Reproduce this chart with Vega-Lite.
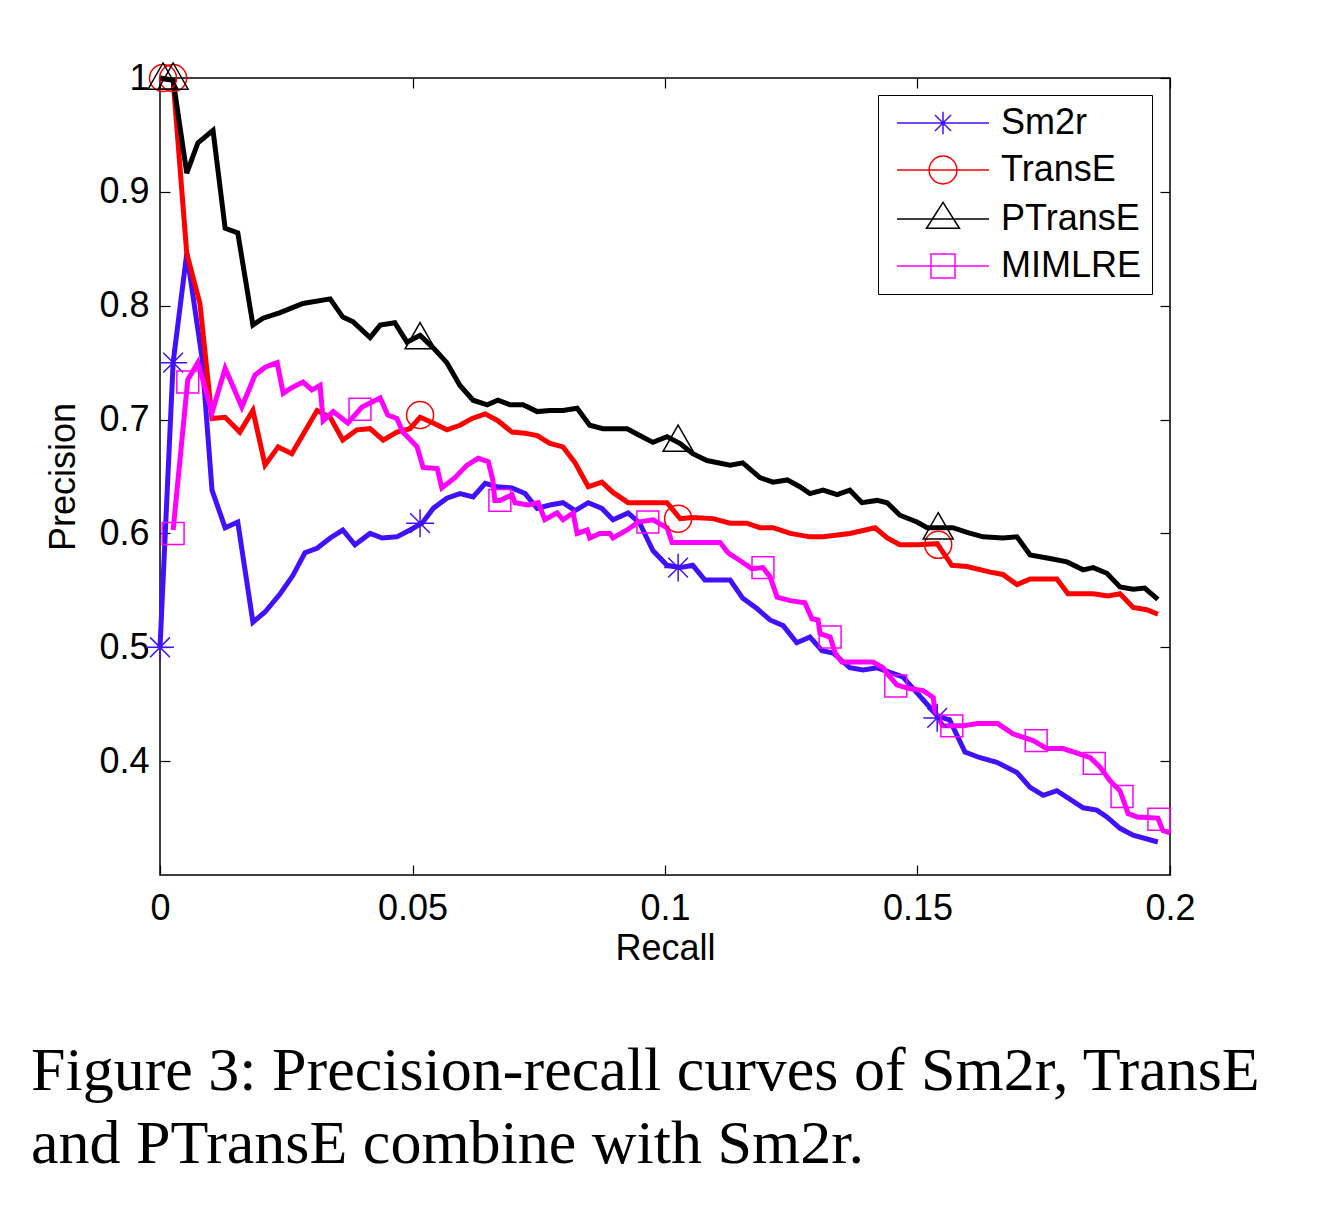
{
  "$schema": "https://vega.github.io/schema/vega-lite/v6.json",
  "autosize": {"type": "none"},
  "width": 1010,
  "height": 797,
  "padding": {"left": 160, "top": 78, "right": 148, "bottom": 337},
  "background": "white",
  "config": {
    "view": {"stroke": "black", "strokeWidth": 1.5},
    "font": "Liberation Sans",
    "axis": {
      "domain": false,
      "grid": false,
      "tickColor": "black",
      "tickWidth": 1.2,
      "tickSize": -10,
      "labelFlush": false,
      "labelOverlap": false,
      "labelFont": "Liberation Sans",
      "labelFontSize": 36,
      "labelColor": "black",
      "titleFont": "Liberation Sans",
      "titleFontSize": 36,
      "titleFontWeight": "normal",
      "titleColor": "black"
    }
  },
  "title": {
    "text": ["Figure 3: Precision-recall curves of Sm2r, TransE", "and PTransE combine with Sm2r."],
    "orient": "bottom",
    "anchor": "start",
    "frame": "group",
    "dx": -129,
    "offset": 75,
    "font": "Liberation Serif",
    "fontSize": 62,
    "fontWeight": "normal",
    "lineHeight": 73,
    "color": "black"
  },
  "datasets": {
    "curves": [
      {"series":"Sm2r","recall":0,"precision":0.5},{"series":"Sm2r","recall":0.0026,"precision":0.75},{"series":"Sm2r","recall":0.0053,"precision":0.846},{"series":"Sm2r","recall":0.0083,"precision":0.755},{"series":"Sm2r","recall":0.0103,"precision":0.638},{"series":"Sm2r","recall":0.0129,"precision":0.605},{"series":"Sm2r","recall":0.0154,"precision":0.61},{"series":"Sm2r","recall":0.0184,"precision":0.522},{"series":"Sm2r","recall":0.0208,"precision":0.531},{"series":"Sm2r","recall":0.0238,"precision":0.547},{"series":"Sm2r","recall":0.0263,"precision":0.563},{"series":"Sm2r","recall":0.0287,"precision":0.583},{"series":"Sm2r","recall":0.0311,"precision":0.587},{"series":"Sm2r","recall":0.0337,"precision":0.596},{"series":"Sm2r","recall":0.0362,"precision":0.603},{"series":"Sm2r","recall":0.0386,"precision":0.59},{"series":"Sm2r","recall":0.0416,"precision":0.6},{"series":"Sm2r","recall":0.044,"precision":0.596},{"series":"Sm2r","recall":0.0469,"precision":0.597},{"series":"Sm2r","recall":0.0495,"precision":0.603},{"series":"Sm2r","recall":0.0519,"precision":0.609},{"series":"Sm2r","recall":0.0541,"precision":0.622},{"series":"Sm2r","recall":0.0568,"precision":0.631},{"series":"Sm2r","recall":0.0594,"precision":0.635},{"series":"Sm2r","recall":0.062,"precision":0.632},{"series":"Sm2r","recall":0.0644,"precision":0.644},{"series":"Sm2r","recall":0.0667,"precision":0.641},{"series":"Sm2r","recall":0.0697,"precision":0.64},{"series":"Sm2r","recall":0.0723,"precision":0.635},{"series":"Sm2r","recall":0.0747,"precision":0.622},{"series":"Sm2r","recall":0.0772,"precision":0.625},{"series":"Sm2r","recall":0.0798,"precision":0.627},{"series":"Sm2r","recall":0.0822,"precision":0.62},{"series":"Sm2r","recall":0.0848,"precision":0.627},{"series":"Sm2r","recall":0.0875,"precision":0.622},{"series":"Sm2r","recall":0.0897,"precision":0.612},{"series":"Sm2r","recall":0.0927,"precision":0.618},{"series":"Sm2r","recall":0.095,"precision":0.609},{"series":"Sm2r","recall":0.0976,"precision":0.585},{"series":"Sm2r","recall":0.1004,"precision":0.572},{"series":"Sm2r","recall":0.103,"precision":0.57},{"series":"Sm2r","recall":0.1055,"precision":0.572},{"series":"Sm2r","recall":0.1079,"precision":0.559},{"series":"Sm2r","recall":0.1129,"precision":0.559},{"series":"Sm2r","recall":0.1154,"precision":0.543},{"series":"Sm2r","recall":0.1182,"precision":0.534},{"series":"Sm2r","recall":0.1208,"precision":0.524},{"series":"Sm2r","recall":0.1234,"precision":0.519},{"series":"Sm2r","recall":0.1261,"precision":0.504},{"series":"Sm2r","recall":0.1287,"precision":0.509},{"series":"Sm2r","recall":0.1311,"precision":0.497},{"series":"Sm2r","recall":0.1333,"precision":0.495},{"series":"Sm2r","recall":0.1366,"precision":0.482},{"series":"Sm2r","recall":0.1392,"precision":0.48},{"series":"Sm2r","recall":0.142,"precision":0.482},{"series":"Sm2r","recall":0.1471,"precision":0.474},{"series":"Sm2r","recall":0.1499,"precision":0.46},{"series":"Sm2r","recall":0.1539,"precision":0.44},{"series":"Sm2r","recall":0.1564,"precision":0.436},{"series":"Sm2r","recall":0.1594,"precision":0.408},{"series":"Sm2r","recall":0.1624,"precision":0.403},{"series":"Sm2r","recall":0.1657,"precision":0.399},{"series":"Sm2r","recall":0.1697,"precision":0.39},{"series":"Sm2r","recall":0.1723,"precision":0.377},{"series":"Sm2r","recall":0.1749,"precision":0.37},{"series":"Sm2r","recall":0.1776,"precision":0.374},{"series":"Sm2r","recall":0.1828,"precision":0.359},{"series":"Sm2r","recall":0.1855,"precision":0.357},{"series":"Sm2r","recall":0.1875,"precision":0.351},{"series":"Sm2r","recall":0.1901,"precision":0.341},{"series":"Sm2r","recall":0.1927,"precision":0.335},{"series":"Sm2r","recall":0.1976,"precision":0.329},
      {"series":"TransE","recall":0,"precision":1.0},{"series":"TransE","recall":0.0026,"precision":0.998},{"series":"TransE","recall":0.0053,"precision":0.846},{"series":"TransE","recall":0.0079,"precision":0.802},{"series":"TransE","recall":0.0103,"precision":0.701},{"series":"TransE","recall":0.0129,"precision":0.702},{"series":"TransE","recall":0.0158,"precision":0.689},{"series":"TransE","recall":0.0184,"precision":0.708},{"series":"TransE","recall":0.0208,"precision":0.66},{"series":"TransE","recall":0.0234,"precision":0.676},{"series":"TransE","recall":0.0261,"precision":0.67},{"series":"TransE","recall":0.0311,"precision":0.708},{"series":"TransE","recall":0.0337,"precision":0.702},{"series":"TransE","recall":0.0362,"precision":0.682},{"series":"TransE","recall":0.039,"precision":0.691},{"series":"TransE","recall":0.0416,"precision":0.692},{"series":"TransE","recall":0.0442,"precision":0.682},{"series":"TransE","recall":0.0469,"precision":0.689},{"series":"TransE","recall":0.0495,"precision":0.692},{"series":"TransE","recall":0.0515,"precision":0.702},{"series":"TransE","recall":0.0541,"precision":0.697},{"series":"TransE","recall":0.0568,"precision":0.691},{"series":"TransE","recall":0.0594,"precision":0.695},{"series":"TransE","recall":0.0618,"precision":0.701},{"series":"TransE","recall":0.0644,"precision":0.705},{"series":"TransE","recall":0.0669,"precision":0.699},{"series":"TransE","recall":0.0697,"precision":0.689},{"series":"TransE","recall":0.0723,"precision":0.688},{"series":"TransE","recall":0.0747,"precision":0.686},{"series":"TransE","recall":0.0772,"precision":0.679},{"series":"TransE","recall":0.0798,"precision":0.676},{"series":"TransE","recall":0.0822,"precision":0.662},{"series":"TransE","recall":0.0848,"precision":0.641},{"series":"TransE","recall":0.0875,"precision":0.645},{"series":"TransE","recall":0.0897,"precision":0.636},{"series":"TransE","recall":0.0927,"precision":0.627},{"series":"TransE","recall":0.095,"precision":0.627},{"series":"TransE","recall":0.1004,"precision":0.627},{"series":"TransE","recall":0.103,"precision":0.613},{"series":"TransE","recall":0.1055,"precision":0.614},{"series":"TransE","recall":0.1095,"precision":0.613},{"series":"TransE","recall":0.1129,"precision":0.609},{"series":"TransE","recall":0.1162,"precision":0.609},{"series":"TransE","recall":0.1188,"precision":0.605},{"series":"TransE","recall":0.1214,"precision":0.605},{"series":"TransE","recall":0.1248,"precision":0.6},{"series":"TransE","recall":0.1287,"precision":0.597},{"series":"TransE","recall":0.1313,"precision":0.597},{"series":"TransE","recall":0.1366,"precision":0.6},{"series":"TransE","recall":0.1416,"precision":0.605},{"series":"TransE","recall":0.144,"precision":0.596},{"series":"TransE","recall":0.1465,"precision":0.59},{"series":"TransE","recall":0.1499,"precision":0.59},{"series":"TransE","recall":0.1539,"precision":0.591},{"series":"TransE","recall":0.1568,"precision":0.572},{"series":"TransE","recall":0.1598,"precision":0.571},{"series":"TransE","recall":0.1644,"precision":0.566},{"series":"TransE","recall":0.1669,"precision":0.564},{"series":"TransE","recall":0.1697,"precision":0.555},{"series":"TransE","recall":0.1723,"precision":0.56},{"series":"TransE","recall":0.1776,"precision":0.56},{"series":"TransE","recall":0.1798,"precision":0.547},{"series":"TransE","recall":0.1848,"precision":0.547},{"series":"TransE","recall":0.1877,"precision":0.545},{"series":"TransE","recall":0.1901,"precision":0.547},{"series":"TransE","recall":0.1927,"precision":0.535},{"series":"TransE","recall":0.1954,"precision":0.533},{"series":"TransE","recall":0.1976,"precision":0.529},
      {"series":"PTransE","recall":0,"precision":1.0},{"series":"PTransE","recall":0.0026,"precision":0.998},{"series":"PTransE","recall":0.0053,"precision":0.9165},{"series":"PTransE","recall":0.0075,"precision":0.943},{"series":"PTransE","recall":0.0105,"precision":0.954},{"series":"PTransE","recall":0.0129,"precision":0.868},{"series":"PTransE","recall":0.0154,"precision":0.864},{"series":"PTransE","recall":0.0184,"precision":0.783},{"series":"PTransE","recall":0.0204,"precision":0.789},{"series":"PTransE","recall":0.0238,"precision":0.794},{"series":"PTransE","recall":0.0283,"precision":0.802},{"series":"PTransE","recall":0.0337,"precision":0.806},{"series":"PTransE","recall":0.0362,"precision":0.79},{"series":"PTransE","recall":0.0382,"precision":0.786},{"series":"PTransE","recall":0.0416,"precision":0.772},{"series":"PTransE","recall":0.0436,"precision":0.783},{"series":"PTransE","recall":0.0465,"precision":0.785},{"series":"PTransE","recall":0.0489,"precision":0.768},{"series":"PTransE","recall":0.0515,"precision":0.774},{"series":"PTransE","recall":0.0541,"precision":0.763},{"series":"PTransE","recall":0.0568,"precision":0.75},{"series":"PTransE","recall":0.0594,"precision":0.73},{"series":"PTransE","recall":0.062,"precision":0.717},{"series":"PTransE","recall":0.0648,"precision":0.713},{"series":"PTransE","recall":0.0669,"precision":0.717},{"series":"PTransE","recall":0.0693,"precision":0.713},{"series":"PTransE","recall":0.0719,"precision":0.713},{"series":"PTransE","recall":0.0747,"precision":0.707},{"series":"PTransE","recall":0.0772,"precision":0.708},{"series":"PTransE","recall":0.0798,"precision":0.708},{"series":"PTransE","recall":0.0826,"precision":0.71},{"series":"PTransE","recall":0.0851,"precision":0.695},{"series":"PTransE","recall":0.0877,"precision":0.692},{"series":"PTransE","recall":0.0925,"precision":0.692},{"series":"PTransE","recall":0.095,"precision":0.686},{"series":"PTransE","recall":0.0976,"precision":0.68},{"series":"PTransE","recall":0.1004,"precision":0.685},{"series":"PTransE","recall":0.103,"precision":0.679},{"series":"PTransE","recall":0.1055,"precision":0.67},{"series":"PTransE","recall":0.1083,"precision":0.664},{"series":"PTransE","recall":0.1129,"precision":0.66},{"series":"PTransE","recall":0.1154,"precision":0.662},{"series":"PTransE","recall":0.1188,"precision":0.649},{"series":"PTransE","recall":0.1214,"precision":0.645},{"series":"PTransE","recall":0.1242,"precision":0.647},{"series":"PTransE","recall":0.1267,"precision":0.641},{"series":"PTransE","recall":0.1287,"precision":0.635},{"series":"PTransE","recall":0.1313,"precision":0.638},{"series":"PTransE","recall":0.1341,"precision":0.634},{"series":"PTransE","recall":0.1366,"precision":0.638},{"series":"PTransE","recall":0.139,"precision":0.627},{"series":"PTransE","recall":0.142,"precision":0.629},{"series":"PTransE","recall":0.144,"precision":0.627},{"series":"PTransE","recall":0.1465,"precision":0.616},{"series":"PTransE","recall":0.1499,"precision":0.61},{"series":"PTransE","recall":0.1519,"precision":0.605},{"series":"PTransE","recall":0.157,"precision":0.605},{"series":"PTransE","recall":0.1598,"precision":0.601},{"series":"PTransE","recall":0.163,"precision":0.597},{"series":"PTransE","recall":0.1669,"precision":0.596},{"series":"PTransE","recall":0.1697,"precision":0.597},{"series":"PTransE","recall":0.1723,"precision":0.581},{"series":"PTransE","recall":0.1762,"precision":0.578},{"series":"PTransE","recall":0.1796,"precision":0.575},{"series":"PTransE","recall":0.1828,"precision":0.568},{"series":"PTransE","recall":0.1848,"precision":0.57},{"series":"PTransE","recall":0.1875,"precision":0.565},{"series":"PTransE","recall":0.1901,"precision":0.553},{"series":"PTransE","recall":0.1927,"precision":0.551},{"series":"PTransE","recall":0.195,"precision":0.552},{"series":"PTransE","recall":0.1976,"precision":0.542},
      {"series":"MIMLRE","recall":0.0026,"precision":0.603},{"series":"MIMLRE","recall":0.0055,"precision":0.735},{"series":"MIMLRE","recall":0.0075,"precision":0.75},{"series":"MIMLRE","recall":0.0103,"precision":0.706},{"series":"MIMLRE","recall":0.0129,"precision":0.745},{"series":"MIMLRE","recall":0.0162,"precision":0.711},{"series":"MIMLRE","recall":0.0188,"precision":0.739},{"series":"MIMLRE","recall":0.0208,"precision":0.746},{"series":"MIMLRE","recall":0.0232,"precision":0.75},{"series":"MIMLRE","recall":0.0244,"precision":0.723},{"series":"MIMLRE","recall":0.0261,"precision":0.728},{"series":"MIMLRE","recall":0.0283,"precision":0.733},{"series":"MIMLRE","recall":0.0301,"precision":0.726},{"series":"MIMLRE","recall":0.0317,"precision":0.73},{"series":"MIMLRE","recall":0.0323,"precision":0.699},{"series":"MIMLRE","recall":0.0343,"precision":0.707},{"series":"MIMLRE","recall":0.0372,"precision":0.697},{"series":"MIMLRE","recall":0.04,"precision":0.711},{"series":"MIMLRE","recall":0.0436,"precision":0.719},{"series":"MIMLRE","recall":0.0451,"precision":0.704},{"series":"MIMLRE","recall":0.0469,"precision":0.701},{"series":"MIMLRE","recall":0.0481,"precision":0.689},{"series":"MIMLRE","recall":0.0509,"precision":0.676},{"series":"MIMLRE","recall":0.0521,"precision":0.658},{"series":"MIMLRE","recall":0.0549,"precision":0.657},{"series":"MIMLRE","recall":0.0558,"precision":0.64},{"series":"MIMLRE","recall":0.0584,"precision":0.649},{"series":"MIMLRE","recall":0.0608,"precision":0.66},{"series":"MIMLRE","recall":0.063,"precision":0.666},{"series":"MIMLRE","recall":0.065,"precision":0.663},{"series":"MIMLRE","recall":0.0659,"precision":0.647},{"series":"MIMLRE","recall":0.0663,"precision":0.629},{"series":"MIMLRE","recall":0.0673,"precision":0.629},{"series":"MIMLRE","recall":0.0697,"precision":0.634},{"series":"MIMLRE","recall":0.0703,"precision":0.627},{"series":"MIMLRE","recall":0.0729,"precision":0.625},{"series":"MIMLRE","recall":0.0749,"precision":0.627},{"series":"MIMLRE","recall":0.0762,"precision":0.612},{"series":"MIMLRE","recall":0.0786,"precision":0.618},{"series":"MIMLRE","recall":0.0798,"precision":0.612},{"series":"MIMLRE","recall":0.0818,"precision":0.618},{"series":"MIMLRE","recall":0.0826,"precision":0.6},{"series":"MIMLRE","recall":0.0846,"precision":0.603},{"series":"MIMLRE","recall":0.0851,"precision":0.596},{"series":"MIMLRE","recall":0.0871,"precision":0.6},{"series":"MIMLRE","recall":0.0891,"precision":0.6},{"series":"MIMLRE","recall":0.0897,"precision":0.596},{"series":"MIMLRE","recall":0.0925,"precision":0.603},{"series":"MIMLRE","recall":0.0947,"precision":0.61},{"series":"MIMLRE","recall":0.0976,"precision":0.612},{"series":"MIMLRE","recall":0.1004,"precision":0.605},{"series":"MIMLRE","recall":0.1014,"precision":0.592},{"series":"MIMLRE","recall":0.1036,"precision":0.592},{"series":"MIMLRE","recall":0.1109,"precision":0.592},{"series":"MIMLRE","recall":0.1125,"precision":0.583},{"series":"MIMLRE","recall":0.1149,"precision":0.576},{"series":"MIMLRE","recall":0.1172,"precision":0.569},{"series":"MIMLRE","recall":0.1194,"precision":0.57},{"series":"MIMLRE","recall":0.1208,"precision":0.562},{"series":"MIMLRE","recall":0.1222,"precision":0.544},{"series":"MIMLRE","recall":0.1248,"precision":0.541},{"series":"MIMLRE","recall":0.1277,"precision":0.539},{"series":"MIMLRE","recall":0.1291,"precision":0.525},{"series":"MIMLRE","recall":0.1303,"precision":0.524},{"series":"MIMLRE","recall":0.1307,"precision":0.512},{"series":"MIMLRE","recall":0.1327,"precision":0.509},{"series":"MIMLRE","recall":0.1337,"precision":0.495},{"series":"MIMLRE","recall":0.135,"precision":0.487},{"series":"MIMLRE","recall":0.1412,"precision":0.487},{"series":"MIMLRE","recall":0.1432,"precision":0.482},{"series":"MIMLRE","recall":0.144,"precision":0.477},{"series":"MIMLRE","recall":0.1459,"precision":0.467},{"series":"MIMLRE","recall":0.1481,"precision":0.464},{"series":"MIMLRE","recall":0.1511,"precision":0.462},{"series":"MIMLRE","recall":0.1531,"precision":0.456},{"series":"MIMLRE","recall":0.1535,"precision":0.443},{"series":"MIMLRE","recall":0.155,"precision":0.431},{"series":"MIMLRE","recall":0.159,"precision":0.431},{"series":"MIMLRE","recall":0.1618,"precision":0.433},{"series":"MIMLRE","recall":0.1659,"precision":0.433},{"series":"MIMLRE","recall":0.1689,"precision":0.424},{"series":"MIMLRE","recall":0.1729,"precision":0.418},{"series":"MIMLRE","recall":0.1756,"precision":0.411},{"series":"MIMLRE","recall":0.1788,"precision":0.411},{"series":"MIMLRE","recall":0.1816,"precision":0.407},{"series":"MIMLRE","recall":0.1842,"precision":0.403},{"series":"MIMLRE","recall":0.1861,"precision":0.395},{"series":"MIMLRE","recall":0.1881,"precision":0.383},{"series":"MIMLRE","recall":0.1901,"precision":0.374},{"series":"MIMLRE","recall":0.1917,"precision":0.354},{"series":"MIMLRE","recall":0.1935,"precision":0.351},{"series":"MIMLRE","recall":0.1976,"precision":0.35},{"series":"MIMLRE","recall":0.1986,"precision":0.339},{"series":"MIMLRE","recall":0.2,"precision":0.337}
    ],
    "markers": [
      {"series":"Sm2r","recall":0,"precision":0.5},{"series":"Sm2r","recall":0.0026,"precision":0.75},{"series":"Sm2r","recall":0.0515,"precision":0.609},{"series":"Sm2r","recall":0.1026,"precision":0.57},{"series":"Sm2r","recall":0.1539,"precision":0.438},
      {"series":"TransE","recall":0.0006,"precision":1.0},{"series":"TransE","recall":0.0026,"precision":1.0},{"series":"TransE","recall":0.0515,"precision":0.704},{"series":"TransE","recall":0.1026,"precision":0.613},{"series":"TransE","recall":0.1541,"precision":0.59},
      {"series":"PTransE","recall":0.0006,"precision":1.0},{"series":"PTransE","recall":0.0026,"precision":1.0},{"series":"PTransE","recall":0.0515,"precision":0.772},{"series":"PTransE","recall":0.1026,"precision":0.682},{"series":"PTransE","recall":0.1541,"precision":0.605},
      {"series":"MIMLRE","recall":0.0026,"precision":0.6},{"series":"MIMLRE","recall":0.0055,"precision":0.733},{"series":"MIMLRE","recall":0.0396,"precision":0.709},{"series":"MIMLRE","recall":0.0673,"precision":0.629},{"series":"MIMLRE","recall":0.0966,"precision":0.61},{"series":"MIMLRE","recall":0.1194,"precision":0.57},{"series":"MIMLRE","recall":0.1327,"precision":0.509},{"series":"MIMLRE","recall":0.1457,"precision":0.466},{"series":"MIMLRE","recall":0.1568,"precision":0.431},{"series":"MIMLRE","recall":0.1735,"precision":0.418},{"series":"MIMLRE","recall":0.185,"precision":0.398},{"series":"MIMLRE","recall":0.1905,"precision":0.369},{"series":"MIMLRE","recall":0.1978,"precision":0.349}
    ]
  },
  "layer": [
    {
      "data": {"name": "curves"},
      "mark": {"type": "line", "strokeWidth": 5, "strokeJoin": "miter", "strokeCap": "butt"},
      "encoding": {
        "x": {"field": "recall", "type": "quantitative",
              "scale": {"domain": [0, 0.2], "nice": false, "zero": false},
              "axis": {"orient": "bottom", "values": [0, 0.05, 0.1, 0.15, 0.2], "format": "~g", "title": "Recall", "labelPadding": 26, "titlePadding": 5}},
        "y": {"field": "precision", "type": "quantitative",
              "scale": {"domain": [0.3, 1], "nice": false, "zero": false},
              "axis": {"orient": "left", "values": [0.4, 0.5, 0.6, 0.7, 0.8, 0.9, 1], "format": "~g", "title": "Precision", "labelPadding": 21, "titlePadding": 16}},
        "color": {"field": "series", "type": "nominal",
                  "scale": {"domain": ["Sm2r", "TransE", "PTransE", "MIMLRE"], "range": ["#4010ff", "#ff0000", "#000000", "#ff00ff"]},
                  "legend": {
                    "title": null,
                    "orient": "none",
                    "legendX": 718,
                    "legendY": 17,
                    "fillColor": "white",
                    "strokeColor": "black",
                    "padding": 10,
                    "labelFont": "Liberation Sans",
                    "labelFontSize": 36,
                    "labelColor": "black",
                    "labelOffset": 40,
                    "symbolOffset": 37,
                    "symbolSize": 1024,
                    "symbolStrokeWidth": 1.5,
                    "rowPadding": 11,
                    "encode": {
                      "symbols": {
                        "update": {
                          "shape": {"signal": "datum.value === 'Sm2r' ? 'M-2.875,0L2.875,0M-0.7,0L0.7,0M0,-0.7L0,0.7M-0.5,-0.5L0.5,0.5M-0.5,0.5L0.5,-0.5' : datum.value === 'TransE' ? 'M-2.875,0L2.875,0M-0.87,0A0.87,0.87 0 1,1 0.87,0A0.87,0.87 0 1,1 -0.87,0' : datum.value === 'PTransE' ? 'M-2.875,0L2.875,0M0,-1.04L1.03,0.58L-1.03,0.58Z' : 'M-2.875,0L2.875,0M-0.75,-0.75L0.75,-0.75L0.75,0.75L-0.75,0.75Z'"},
                          "fill": {"value": "transparent"},
                          "strokeWidth": {"value": 1.5},
                          "opacity": {"value": 1}
                        }
                      }
                    }
                  }}
      }
    },
    {
      "data": {"name": "markers"},
      "mark": {"type": "point", "filled": false, "strokeWidth": 1.5, "size": 900, "opacity": 1},
      "encoding": {
        "x": {"field": "recall", "type": "quantitative",
              "axis": {"orient": "top", "values": [0, 0.05, 0.1, 0.15, 0.2], "labels": false, "title": null}},
        "y": {"field": "precision", "type": "quantitative",
              "axis": {"orient": "right", "values": [0.4, 0.5, 0.6, 0.7, 0.8, 0.9, 1], "labels": false, "title": null}},
        "color": {"field": "series", "type": "nominal", "legend": null},
        "shape": {"field": "series", "type": "nominal", "legend": null,
                  "scale": {"domain": ["Sm2r", "TransE", "PTransE", "MIMLRE"],
                            "range": ["M-0.93,0H0.93M0,-0.93V0.93M-0.66,-0.66L0.66,0.66M-0.66,0.66L0.66,-0.66", "M-0.9,0A0.9,0.9 0 1,1 0.9,0A0.9,0.9 0 1,1 -0.9,0Z", "M0,-1L1,0.75L-1,0.75Z", "M-0.73,-0.73H0.73V0.73H-0.73Z"]}}
      }
    }
  ],
  "resolve": {"axis": {"x": "independent", "y": "independent"}, "legend": {"color": "independent", "shape": "independent"}}
}
